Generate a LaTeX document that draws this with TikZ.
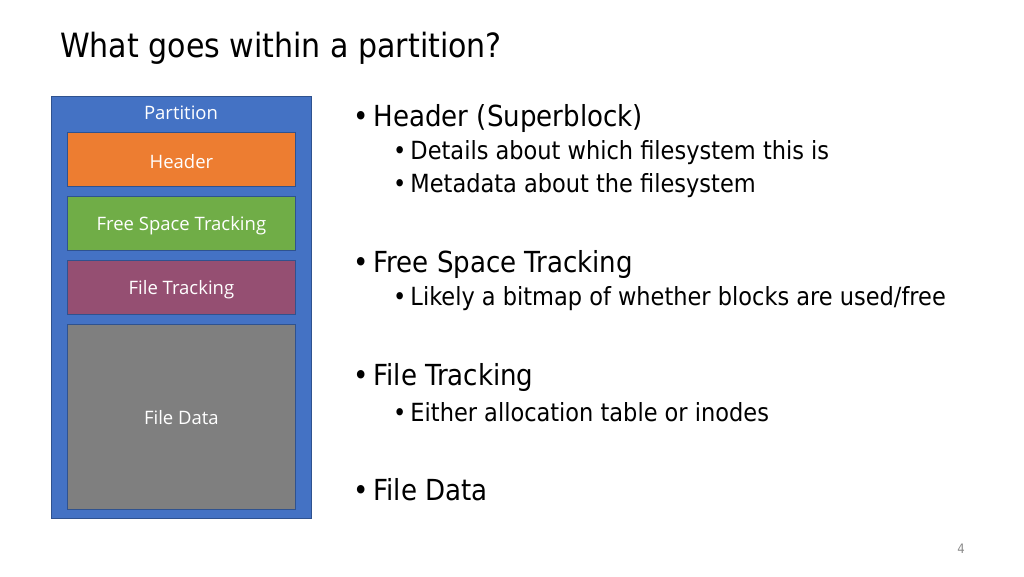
\documentclass[tikz,border=0pt]{standalone}
\usepackage{fontspec}
\setmainfont{DejaVu Sans Condensed}
\newfontfamily\boxfont{Open Sans}
\definecolor{partblue}{HTML}{4472C4}
\definecolor{partedge}{HTML}{2F528F}
\definecolor{hdrorange}{HTML}{ED7D31}
\definecolor{fsgreen}{HTML}{70AD47}
\definecolor{ftpurple}{HTML}{954F72}
\definecolor{fdgray}{HTML}{7F7F7F}
\definecolor{pagegray}{HTML}{8C8C8C}
\tikzset{
  blk/.style={draw=partedge, line width=0.8pt, inner sep=0pt},
  boxlbl/.style={text=white, font=\boxfont\fontsize{18.5}{22}\selectfont},
  lvlone/.style={anchor=west, inner sep=0pt, font=\fontsize{29}{34}\selectfont},
  lvltwo/.style={anchor=west, inner sep=0pt, font=\fontsize{25}{30}\selectfont},
}
\begin{document}
\begin{tikzpicture}[x=1pt,y=-1pt]
\useasboundingbox[fill=white] (0,0) rectangle (1024,576);
\node[anchor=west, inner sep=0pt, font=\fontsize{33.4}{40}\selectfont] (title) at (60,48) {What goes within a partition?};
% partition
\node[blk, fill=partblue, minimum width=260pt, minimum height=422pt, anchor=north west] (part) at (51,96) {};
\node[boxlbl] (partlbl) at (181,113) {Partition};
\node[blk, fill=hdrorange, minimum width=228pt, minimum height=54pt, anchor=north west] (hdr) at (67,132) {};
\node[boxlbl] at ([yshift=-2pt]hdr.center) {Header};
\node[blk, fill=fsgreen, minimum width=228pt, minimum height=54pt, anchor=north west] (fst) at (67,196) {};
\node[boxlbl] at ([yshift=-2pt]fst.center) {Free Space Tracking};
\node[blk, fill=ftpurple, minimum width=228pt, minimum height=54pt, anchor=north west] (ft) at (67,260) {};
\node[boxlbl] at ([yshift=-2pt]ft.center) {File Tracking};
\node[blk, fill=fdgray, minimum width=228pt, minimum height=185pt, anchor=north west] (fd) at (67,324) {};
\node[boxlbl] at ([yshift=-1pt]fd.center) {File Data};
% bullets
\node[lvlone] (b1) at (353,118) {•\hspace{5pt}Header (Superblock)};
\node[lvltwo] (b11) at (393,153) {•\hspace{4pt}Details about which filesystem this is};
\node[lvltwo] (b12) at (393,186) {•\hspace{4pt}Metadata about the filesystem};
\node[lvlone] (b2) at (353,264) {•\hspace{5pt}Free Space Tracking};
\node[lvltwo] (b21) at (393,299) {•\hspace{4pt}Likely a bitmap of whether blocks are used/free};
\node[lvlone] (b3) at (353,377) {•\hspace{5pt}File Tracking};
\node[lvltwo] (b31) at (393,412) {•\hspace{4pt}Either allocation table or inodes};
\node[lvlone] (b4) at (353,490) {•\hspace{5pt}File Data};
\node[text=pagegray, font=\fontsize{13}{15}\selectfont] (pg) at (961,549) {4};
\end{tikzpicture}
\end{document}
